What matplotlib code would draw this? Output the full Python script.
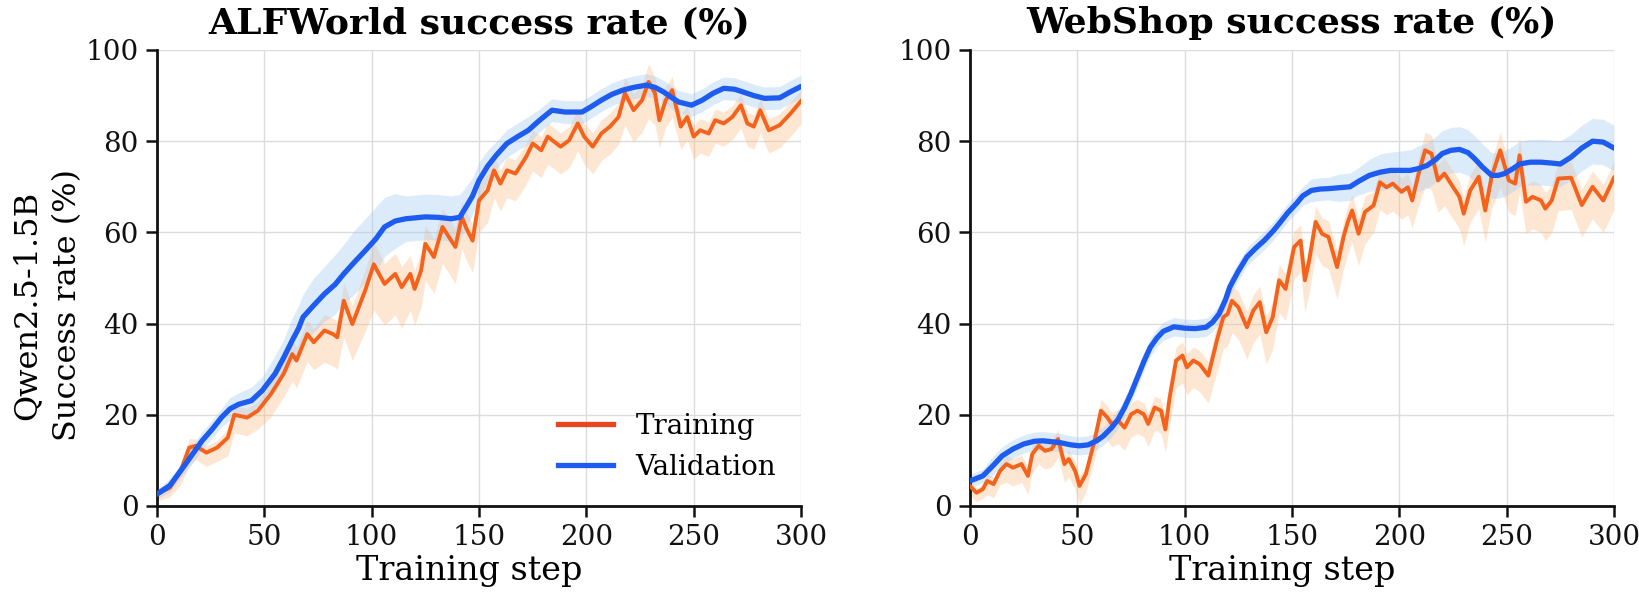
import numpy as np
import matplotlib
matplotlib.use("Agg")
import matplotlib.pyplot as plt
from matplotlib.lines import Line2D

plt.rcParams['font.family'] = ['DejaVu Serif']

# ---------------- ALFWorld ----------------
alf_train_steps = [0, 6, 11, 15, 18, 23, 28, 33, 36, 42, 47, 53, 59, 63, 65, 70, 73, 78, 82, 84,
                   87, 91, 97, 101, 106, 111, 114, 118, 120, 123, 125, 129, 133, 136, 139, 142, 144, 147, 150, 154,
                   157, 160, 163, 167, 172, 175, 179, 182, 188, 192, 196, 199, 203, 207, 211, 215, 218, 222, 226, 229,
                   232, 234, 237, 240, 244, 247, 250, 253, 257, 260, 264, 268, 272, 275, 278, 281, 285, 290, 295, 300]
alf_train = [2.6, 4.0, 7.7, 12.8, 13.2, 11.7, 12.8, 15.0, 20.0, 19.4, 20.9, 24.5, 29.0, 33.3, 31.9, 37.7, 35.9, 38.5, 37.7, 37.0,
             45.0, 39.9, 47.3, 53.0, 48.7, 50.9, 48.0, 50.9, 47.6, 51.6, 57.5, 54.6, 61.2, 59.0, 56.8, 63.4, 61.0, 58.2, 67.0, 69.2,
             73.6, 70.7, 73.6, 72.9, 76.6, 79.5, 78.0, 81.0, 78.8, 80.2, 83.9, 81.0, 78.8, 81.7, 83.2, 85.3, 90.5, 86.8, 89.0, 93.0,
             90.5, 84.6, 89.0, 91.2, 83.2, 85.3, 81.0, 82.4, 81.7, 84.6, 83.9, 85.3, 87.9, 83.9, 83.2, 86.8, 82.4, 83.5, 86.0, 88.8]
alf_train_band = [1.5, 2, 3, 4, 3, 3, 3, 4, 4, 4, 4, 5, 5, 6, 6, 6, 6, 7, 7, 7,
                  8, 8, 9, 10, 9, 9, 9, 8, 8, 8, 8, 8, 8, 8, 8, 7, 7, 7, 7, 7,
                  6, 6, 6, 6, 6, 6, 6, 6, 6, 6, 6, 6, 6, 6, 6, 6, 7, 7, 7, 8,
                  7, 6, 6, 6, 5, 5, 5, 5, 5, 5, 5, 5, 5, 5, 5, 5, 5, 5, 5, 5]

alf_val_steps = [0, 6, 11, 16, 21, 26, 30, 34, 38, 44, 49, 55, 59, 63, 66, 68, 73, 78, 83, 87,
                 92, 97, 102, 106, 111, 116, 125, 131, 137, 141, 144, 147, 150, 154, 158, 163, 168, 173, 178, 184,
                 190, 198, 202, 207, 212, 217, 222, 228, 232, 236, 240, 243, 249, 254, 259, 264, 269, 273, 278, 283,
                 290, 295, 300]
alf_val = [2.6, 4.5, 7.7, 11.0, 14.3, 17.0, 19.4, 21.3, 22.3, 23.1, 25.3, 29.0, 32.5, 36.3, 39.0, 41.4, 44.0, 46.5, 48.6, 50.9,
           53.5, 56.0, 58.6, 61.2, 62.5, 63.0, 63.4, 63.3, 63.0, 63.3, 65.6, 68.0, 71.4, 74.5, 76.9, 79.5, 81.0, 82.4, 84.5, 86.8,
           86.4, 86.4, 87.5, 89.0, 90.3, 91.2, 91.8, 92.3, 91.8, 90.8, 89.5, 88.6, 87.9, 89.0, 90.5, 91.6, 91.4, 90.8, 90.0, 89.4,
           89.5, 90.8, 92.0]
alf_val_band = [1, 1.5, 1.5, 2, 2, 2, 2, 2.5, 2.5, 3, 3, 4, 4, 5, 5, 5, 6, 6, 6.5, 6.5,
                7, 7, 7, 6.5, 6, 5, 5, 5, 5, 5, 4.5, 4, 4, 3.5, 3, 3, 3, 3, 2.5, 2.5,
                2.5, 2.5, 2.5, 2.5, 2.5, 2.5, 2.5, 2.5, 2.5, 2.5, 2.5, 2.5, 2.5, 2.5, 2.5, 2.5, 2.5, 2.5, 2.5, 2.5,
                2.5, 2.5, 2.5]

# ---------------- WebShop ----------------
web_train_steps = [0, 3, 6, 8, 11, 14, 17, 20, 24, 27, 29, 32, 35, 38, 41, 44, 46, 49, 51, 54,
                   58, 61, 64, 66, 69, 72, 75, 78, 81, 83, 86, 89, 91, 93, 96, 99, 101, 104, 107, 111,
                   115, 118, 120, 122, 125, 127, 129, 132, 135, 138, 141, 144, 147, 151, 154, 156, 158, 161, 164, 167,
                   171, 174, 176, 178, 181, 184, 188, 191, 194, 197, 201, 204, 206, 209, 212, 215, 218, 221, 224, 228,
                   230, 233, 237, 240, 243, 247, 251, 254, 256, 259, 262, 266, 268, 271, 274, 280, 285, 290, 295, 300]
web_train = [4.4, 2.9, 3.7, 5.5, 4.8, 7.7, 9.2, 8.4, 9.2, 6.6, 11.4, 13.2, 12.1, 12.5, 14.7, 9.2, 10.3, 7.7, 4.4, 7.0,
             14.3, 20.9, 19.4, 18.0, 18.7, 17.2, 20.1, 20.9, 20.1, 18.0, 21.6, 20.9, 16.8, 23.8, 31.9, 33.0, 30.4, 31.9, 31.1, 28.6,
             36.3, 41.4, 42.1, 45.0, 43.6, 41.4, 39.2, 42.9, 44.7, 38.1, 41.4, 49.5, 47.6, 56.8, 58.2, 49.5, 53.8, 62.3, 59.7, 59.0,
             52.4, 59.0, 62.3, 64.8, 59.7, 64.5, 65.9, 71.0, 69.9, 70.7, 68.9, 69.9, 67.0, 72.9, 78.0, 77.3, 71.4, 72.9, 70.7, 67.8,
             64.1, 69.2, 72.2, 64.8, 72.2, 78.0, 71.4, 70.7, 76.9, 66.7, 67.8, 67.0, 65.2, 67.0, 71.8, 72.0, 66.0, 70.0, 67.0, 72.0]
web_train_band = [2, 2, 2, 3, 3, 3, 4, 4, 4, 4, 4, 4, 4, 4, 4, 4, 4, 4, 4, 4,
                  4, 5, 5, 5, 5, 5, 5, 5, 5, 5, 5, 5, 5, 6, 6, 6, 6, 6, 6, 6,
                  7, 7, 7, 7, 7, 7, 7, 7, 7, 7, 7, 7, 7, 7, 7, 7, 7, 7, 7, 7,
                  7, 7, 7, 7, 7, 7, 6, 6, 6, 6, 6, 6, 6, 7, 8, 8, 7, 7, 7, 7,
                  7, 7, 7, 7, 7, 8, 7, 7, 8, 7, 7, 7, 7, 7, 7, 7, 7, 7, 7, 7]

web_val_steps = [0, 6, 10, 15, 20, 25, 30, 34, 42, 47, 51, 55, 59, 62, 66, 69, 72, 75, 78, 81,
                 84, 87, 90, 95, 100, 105, 110, 113, 116, 119, 121, 125, 129, 133, 137, 141, 144, 148, 152, 155,
                 159, 163, 167, 172, 177, 181, 186, 191, 196, 205, 209, 213, 217, 220, 224, 228, 232, 235, 239, 243,
                 246, 249, 253, 256, 261, 266, 271, 275, 280, 285, 290, 295, 300]
web_val = [5.5, 6.6, 8.5, 11.0, 12.5, 13.6, 14.2, 14.3, 13.9, 13.4, 13.2, 13.4, 14.3, 15.3, 17.2, 19.0, 21.6, 24.7, 28.2, 31.7,
           34.8, 36.8, 38.3, 39.3, 39.0, 38.9, 39.2, 40.3, 42.1, 45.2, 48.0, 51.5, 54.6, 56.5, 58.2, 60.2, 61.9, 64.3, 66.3, 68.0,
           69.2, 69.5, 69.6, 69.8, 70.0, 71.2, 72.5, 73.2, 73.6, 73.6, 74.0, 74.7, 76.0, 77.3, 78.0, 78.2, 77.5, 76.2, 74.2, 72.5,
           72.5, 72.9, 74.0, 75.0, 75.4, 75.4, 75.2, 75.0, 76.5, 78.5, 80.0, 79.8, 78.5]
web_val_band = [1.5, 1.5, 2, 2, 2, 2, 2, 2, 2, 2, 2, 2, 2, 2, 2, 2, 2, 2, 2, 2,
                2, 2, 2, 2, 2, 2, 2, 2, 2, 2, 2, 2, 2, 2, 2, 2, 2, 2, 2, 2,
                2.5, 2.5, 2.5, 3, 3, 3, 3.5, 4, 4, 4.5, 5, 5, 5, 5, 5, 5, 5, 5, 5, 5,
                5, 5, 5, 5, 5, 5, 5, 5, 5, 5, 5, 5, 5]

titles = ["ALFWorld success rate (%)", "WebShop success rate (%)"]
xticks = [0, 50, 100, 150, 200, 250, 300]
yticks = [0, 20, 40, 60, 80, 100]
legend_labels = ["Training", "Validation"]

TRAIN_C = '#F4621C'
TRAIN_LEG = '#E8461E'
TRAIN_FILL = '#FDBB80'
VAL_C = '#1E5CF0'
VAL_FILL = '#9DC6F2'

fig = plt.figure(figsize=(16.4, 5.96), dpi=100)
ax1 = fig.add_axes([157/1640, 1-506/596, 644/1640, 456/596])
ax2 = fig.add_axes([970/1640, 1-506/596, 644/1640, 456/596])

datasets = [
    (alf_train_steps, alf_train, alf_train_band, alf_val_steps, alf_val, alf_val_band),
    (web_train_steps, web_train, web_train_band, web_val_steps, web_val, web_val_band),
]

for ax, title, (ts, tv, tb, vs, vv, vb) in zip([ax1, ax2], titles, datasets):
    ts = np.array(ts); tv = np.array(tv); tb = np.array(tb)
    vs = np.array(vs); vv = np.array(vv); vb = np.array(vb)
    ax.fill_between(ts, tv - tb, tv + 0.5 * tb, color=TRAIN_FILL, alpha=0.35, lw=0, zorder=1)
    ax.fill_between(vs, vv - vb, vv + vb, color=VAL_FILL, alpha=0.35, lw=0, zorder=1)
    ax.plot(ts, tv, color=TRAIN_C, lw=2.8, zorder=3, solid_joinstyle='round')
    ax.plot(vs, vv, color=VAL_C, lw=3.8, zorder=4, solid_joinstyle='round', solid_capstyle='round')
    ax.set_xlim(0, 300)
    ax.set_ylim(0, 100)
    ax.set_xticks(xticks)
    ax.set_yticks(yticks)
    ax.grid(True, color='#dcdcdc', lw=1.0, zorder=0)
    ax.set_axisbelow(True)
    for s in ['top', 'right']:
        ax.spines[s].set_visible(False)
    for s in ['left', 'bottom']:
        ax.spines[s].set_linewidth(2.0)
        ax.spines[s].set_color('#111111')
    ax.tick_params(axis='both', labelsize=20, length=8, width=1.8, direction='out', colors='#111111', pad=5)
    ax.set_xlabel("Training step", fontsize=24, labelpad=3)
    ax.xaxis.label.set_x(0.485)
    ax.set_title(title, fontsize=26, fontweight='bold', pad=12)

ax1.set_ylabel("Qwen2.5-1.5B\nSuccess rate (%)", fontsize=23, labelpad=2, linespacing=1.4)
ax1.yaxis.label.set_y(0.44)

handles = [Line2D([0], [0], color=TRAIN_LEG, lw=3.8), Line2D([0], [0], color=VAL_C, lw=3.8)]
ax1.legend(handles, legend_labels, loc='lower right', bbox_to_anchor=(1.0, 0.0),
           frameon=False, fontsize=20, handlelength=2.0, handletextpad=0.8, labelspacing=0.5)

fig.savefig("out.png", dpi=100)
